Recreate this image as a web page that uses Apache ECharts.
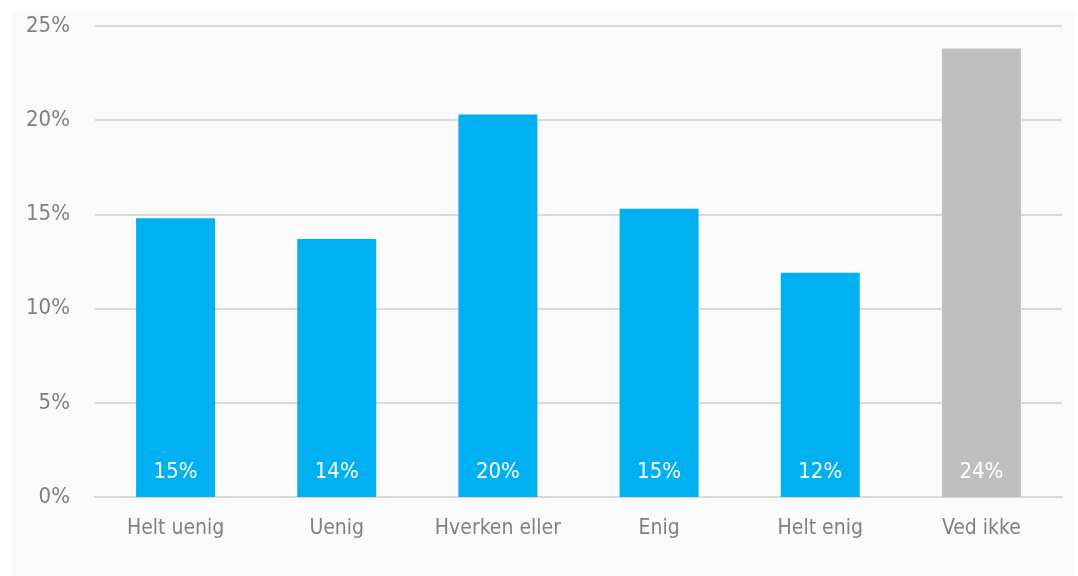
<!DOCTYPE html>
<html>
<head>
    <meta charset="utf-8">
    <title>Svarfordeling</title>
    <script src="https://cdn.jsdelivr.net/npm/echarts@6/dist/echarts.min.js"></script>
</head>
<body style="margin:0;background:#fff">
<div id="main" style="width:1078px;height:576px"></div>
<script>
var categories = ['Helt uenig', 'Uenig', 'Hverken eller', 'Enig', 'Helt enig', 'Ved ikke'];
var values = [14.8, 13.7, 20.3, 15.3, 11.9, 23.8];
var barColors = ['#00b0f0', '#00b0f0', '#00b0f0', '#00b0f0', '#00b0f0', '#bfbfbf'];
var yTicks = [0, 5, 10, 15, 20, 25];

var font = '"DejaVu Sans Condensed", "Liberation Sans Narrow", sans-serif';
var chart = echarts.init(document.getElementById('main'));

var option = {
    animation: false,
    graphic: [{
        type: 'rect',
        z: -10,
        shape: { x: 12, y: 11, width: 1063, height: 565 },
        style: { fill: '#fafafa' }
    }],
    grid: { left: 95, right: 16, top: 26, bottom: 79 },
    xAxis: {
        type: 'category',
        data: categories,
        axisLine: { show: true, lineStyle: { color: '#d9d9d9', width: 2 } },
        axisTick: { show: false },
        axisLabel: { interval: 0, color: '#808080', fontFamily: font, fontSize: 21, margin: 21 }
    },
    yAxis: {
        type: 'value',
        min: yTicks[0],
        max: yTicks[yTicks.length - 1],
        interval: 5,
        axisLine: { show: false },
        axisTick: { show: false },
        splitLine: { lineStyle: { color: '#d9d9d9', width: 2 } },
        axisLabel: {
            color: '#808080', fontFamily: font, fontSize: 22, margin: 25,
            formatter: function (v) { return v + '%'; }
        }
    },
    series: [{
        type: 'bar',
        barWidth: '49%',
        data: values.map(function (v, i) {
            return { value: v, itemStyle: { color: barColors[i] } };
        }),
        label: {
            show: true,
            position: 'insideBottom',
            distance: 14,
            color: '#ffffff',
            fontFamily: font,
            fontSize: 22,
            formatter: function (p) { return Math.round(p.value) + '%'; }
        }
    }]
};
chart.setOption(option);
</script>
</body>
</html>
